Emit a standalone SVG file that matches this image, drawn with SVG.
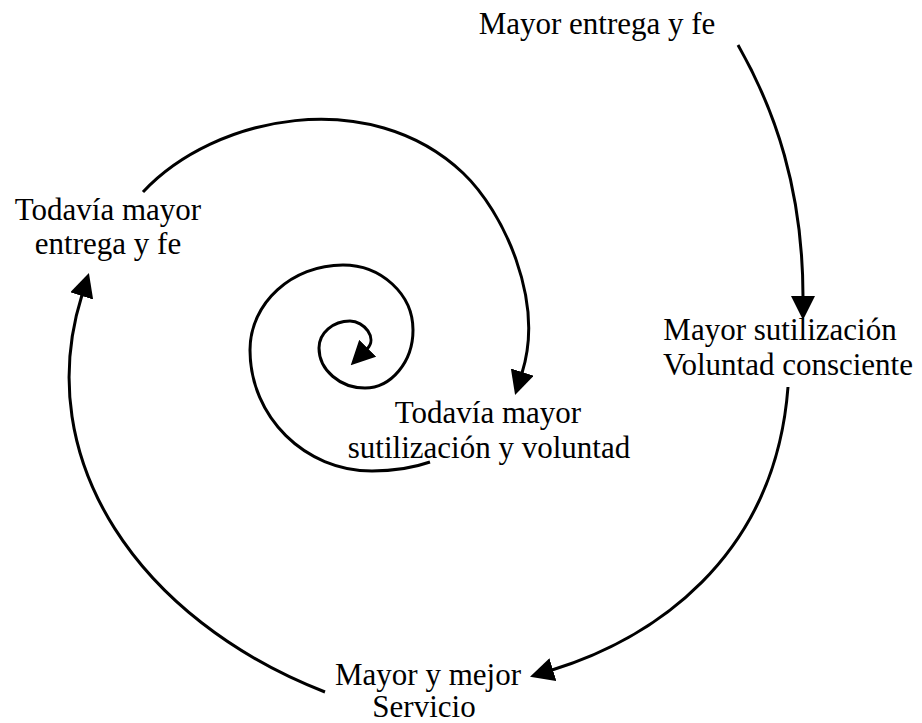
<svg xmlns="http://www.w3.org/2000/svg" width="922" height="723" viewBox="0 0 922 723">
<style>
text{font-size:31px;fill:#000;text-anchor:middle}
.c{fill:none;stroke:#000;stroke-width:3}
</style>
<defs>
<marker id="ah" markerUnits="userSpaceOnUse" viewBox="0 0 24 24" refX="1" refY="12" markerWidth="24" markerHeight="24" orient="auto">
<path d="M0,0 L24,12 L0,24 Z" fill="#000"/>
</marker>
</defs>
<rect width="922" height="723" fill="#fff"/>
<g id="connectors">
<path class="c" marker-end="url(#ah)" d="M738,45 C775,110 803,190 803,297"/>
<path class="c" marker-end="url(#ah)" d="M788,387 C775,560 650,640 552,670"/>
<path class="c" marker-end="url(#ah)" d="M325,692 C140,620 30,460 82,295"/>
<path class="c" marker-end="url(#ah)" d="M143,192 C215,115 370,85 463,173 C503,211 545,300 522,373"/>
<path class="c" marker-end="url(#ah)" d="M430,462 C410,469 390,471 372,471 C305,471 250,417 250,350 C250,303 292,265 343,265 C381,265 413,294 413,330 C413,362 391,388 365,388 C340,388 319,370 319,348 C319,333 333,321 350,321 C364,321 378,338 367,349"/>
</g>
<g font-family="Liberation Serif, serif">
<g id="n1"><text x="597" y="34">Mayor entrega y fe</text></g>
<g id="n2"><text x="780" y="340">Mayor sutilización</text><text x="788" y="375">Voluntad consciente</text></g>
<g id="n3"><text x="428" y="685">Mayor y mejor</text><text x="424" y="717">Servicio</text></g>
<g id="n4"><text x="108" y="220">Todavía mayor</text><text x="108" y="254">entrega y fe</text></g>
<g id="n5"><text x="488" y="423">Todavía mayor</text><text x="489" y="458">sutilización y voluntad</text></g>
</g>
</svg>
